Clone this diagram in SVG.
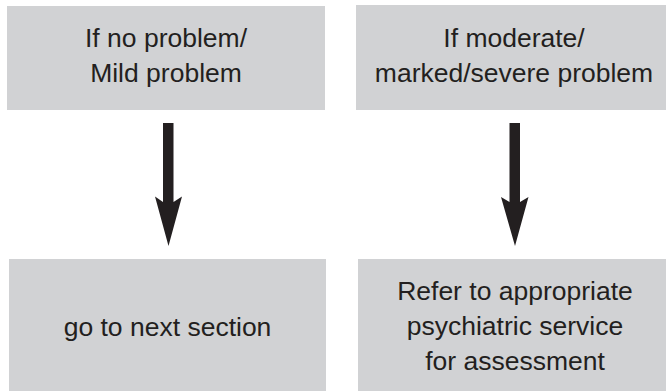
<svg xmlns="http://www.w3.org/2000/svg" width="666" height="391" viewBox="0 0 666 391">
<style>
.box{fill:#d1d2d4}
.lbl{font-family:"Liberation Sans",Arial,sans-serif;font-size:26.5px;fill:#231f20;text-anchor:middle}
.arr{fill:#231f20}
</style>
<rect width="666" height="391" fill="#ffffff"/>
<g id="node-no-problem">
<rect class="box" x="7" y="6" width="318" height="104"/>
<text class="lbl" x="166" y="47">If no problem/</text>
<text class="lbl" x="166" y="81.5">Mild problem</text>
</g>
<g id="node-moderate">
<rect class="box" x="356" y="5" width="310" height="105"/>
<text class="lbl" x="514" y="47">If moderate/</text>
<text class="lbl" x="514" y="81.5">marked/severe problem</text>
</g>
<g id="node-next">
<rect class="box" x="9" y="259" width="317" height="132"/>
<text class="lbl" x="167.5" y="336">go to next section</text>
</g>
<g id="node-refer">
<rect class="box" x="358" y="259" width="308" height="132"/>
<text class="lbl" x="515" y="300">Refer to appropriate</text>
<text class="lbl" x="515" y="335">psychiatric service</text>
<text class="lbl" x="515" y="369.5">for assessment</text>
</g>
<g id="connectors">
<path class="arr" d="M163 123 L173.5 123 L173.5 202 L182 196.5 L168.5 246 L155 196.5 L163 202 Z"/>
<path class="arr" d="M509.5 123 L520 123 L520 202 L528.5 197 L515 246 L501 197 L509.5 202 Z"/>
</g>
</svg>
